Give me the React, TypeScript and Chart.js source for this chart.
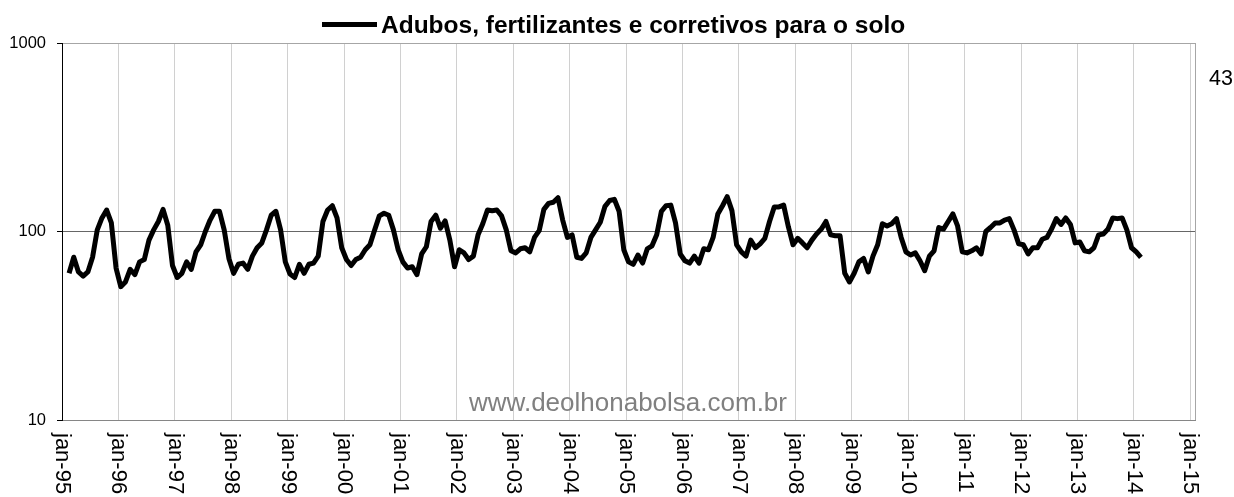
import React, { useEffect, useRef } from "react";
import { Chart, registerables } from "chart.js";

Chart.register(...registerables);

// Monthly series, first value = feb-95 (month index 1 counted from jan-95)
const firstMonthIndex = 1;
const seriesValues: number[] = [
  // 1995 (feb..dec)
  60, 73, 61, 58, 61, 73, 102, 118, 130, 111, 64,
  // 1996
  51, 54, 63, 59, 69, 71, 90, 102, 113, 131, 108, 66,
  // 1997
  57, 60, 69, 63, 78, 85, 100, 115, 128, 128, 102, 72,
  // 1998
  60, 67, 68, 63, 74, 82, 87, 102, 122, 128, 102, 69,
  // 1999
  59.5, 57, 67, 60, 67, 68, 74, 113, 130, 137, 118, 82,
  // 2000
  71, 66, 71, 73, 80, 85, 102, 121, 125, 122, 102, 80,
  // 2001
  69, 64, 65, 59, 76, 83, 113, 122, 104, 114, 90, 65,
  // 2002
  80, 77, 71, 74, 96, 110, 130, 129, 130, 121, 102, 79,
  // 2003
  77, 81, 82, 78, 93, 101, 131, 141, 143, 151, 115, 93,
  // 2004
  96, 73, 72, 77, 93, 102, 112, 136, 146, 148, 128, 80,
  // 2005
  69, 67, 75, 68, 81, 84, 96, 128, 137, 138, 111, 76,
  // 2006
  70, 68, 74, 68, 81, 80, 93, 124, 137, 153, 129, 85,
  // 2007
  78, 74, 90, 82, 86, 92, 113, 135, 135, 138, 106, 85,
  // 2008
  92, 87, 82, 90, 97, 103, 113, 96, 95, 95, 60, 54,
  // 2009
  60, 69, 72, 61, 74, 85, 110, 107, 110, 117, 93, 78,
  // 2010
  75, 77, 70, 62, 74, 79, 105, 103, 113, 124, 107, 78,
  // 2011
  77, 79, 82, 76, 100, 105, 111, 111, 115, 117, 102, 86,
  // 2012
  85, 76, 82, 82, 91, 93, 103, 117, 109, 118, 109, 87,
  // 2013
  88, 79, 78, 82, 96, 97, 103, 118, 117, 118, 102, 82,
  // 2014 (jan..feb)
  78, 73,
];

const xTickLabels: string[] = [
  "jan-95", "jan-96", "jan-97", "jan-98", "jan-99", "jan-00", "jan-01",
  "jan-02", "jan-03", "jan-04", "jan-05", "jan-06", "jan-07", "jan-08",
  "jan-09", "jan-10", "jan-11", "jan-12", "jan-13", "jan-14", "jan-15",
];
const yTickValues: number[] = [10, 100, 1000];
const seriesLabel = "Adubos, fertilizantes e corretivos para o solo";
const sideNote = "43";
const watermark = "www.deolhonabolsa.com.br";

const FONT = '"Liberation Sans", Arial, sans-serif';

export default function App() {
  const canvasRef = useRef<HTMLCanvasElement | null>(null);

  useEffect(() => {
    document.body.style.margin = "0";
    const canvas = canvasRef.current;
    if (!canvas) return;

    const points = seriesValues.map((v, i) => ({ x: firstMonthIndex + i + 0.5, y: v }));
    const totalMonths = (xTickLabels.length - 1) * 12 + 1;

    const overlay = {
      id: "overlay",
      afterDraw(chart: any) {
        const ctx = chart.ctx as CanvasRenderingContext2D;
        const area = chart.chartArea;
        const xs = chart.scales.x;
        ctx.save();
        // right border of plot area
        ctx.strokeStyle = "#a6a6a6";
        ctx.lineWidth = 1;
        ctx.beginPath();
        ctx.moveTo(Math.round(area.right) + 0.5, area.top);
        ctx.lineTo(Math.round(area.right) + 0.5, area.bottom);
        ctx.stroke();

        // watermark
        ctx.fillStyle = "#808080";
        ctx.font = `26px ${FONT}`;
        ctx.textAlign = "center";
        ctx.textBaseline = "alphabetic";
        ctx.fillText(watermark, 628, 411);

        // rotated x labels (reading top to bottom)
        ctx.fillStyle = "#000";
        ctx.font = `22px ${FONT}`;
        ctx.textAlign = "left";
        ctx.textBaseline = "middle";
        xTickLabels.forEach((lab, i) => {
          const px = xs.getPixelForValue(i * 12);
          ctx.save();
          ctx.translate(px, area.bottom + 13);
          ctx.rotate(Math.PI / 2);
          ctx.fillText(lab, 0, 0);
          ctx.restore();
        });

        // legend
        ctx.strokeStyle = "#000";
        ctx.lineWidth = 5;
        ctx.lineCap = "butt";
        ctx.beginPath();
        ctx.moveTo(322, 24.5);
        ctx.lineTo(377, 24.5);
        ctx.stroke();
        ctx.fillStyle = "#000";
        ctx.font = `bold 24.5px ${FONT}`;
        ctx.textAlign = "left";
        ctx.textBaseline = "alphabetic";
        ctx.fillText(seriesLabel, 381, 33);

        // side note
        ctx.font = `21.5px ${FONT}`;
        ctx.fillText(sideNote, 1209, 85);
        ctx.restore();
      },
    };

    const chart = new Chart(canvas, {
      type: "line",
      data: {
        datasets: [
          {
            label: seriesLabel,
            data: points,
            borderColor: "#000",
            borderWidth: 5,
            pointRadius: 0,
            tension: 0,
            borderJoinStyle: "round",
            borderCapStyle: "butt",
            fill: false,
          },
        ],
      },
      options: {
        responsive: false,
        animation: false,
        devicePixelRatio: 1,
        layout: { padding: { top: 43, right: 39, left: 0, bottom: 0 } },
        plugins: {
          legend: { display: false },
          title: { display: false },
          tooltip: { enabled: false },
        },
        scales: {
          x: {
            type: "linear",
            min: 0,
            max: totalMonths,
            afterBuildTicks: (scale: any) => {
              scale.ticks = xTickLabels.map((_, i) => ({ value: i * 12 }));
            },
            afterFit: (scale: any) => {
              scale.height = 77;
            },
            ticks: { display: false },
            grid: { color: "#d0d0d0", lineWidth: 1, drawTicks: false },
            border: { display: true, color: "#868686", width: 1 },
          },
          y: {
            type: "logarithmic",
            min: 10,
            max: 1000,
            afterBuildTicks: (scale: any) => {
              scale.ticks = yTickValues.map((v) => ({ value: v }));
            },
            afterFit: (scale: any) => {
              scale.width = 62;
            },
            ticks: {
              padding: 11,
              color: "#000",
              font: { family: FONT, size: 16.5 },
              callback: (v: any) => String(v),
            },
            grid: {
              color: (c: any) => (c.tick && c.tick.value === 100 ? "#666666" : "#a6a6a6"),
              lineWidth: 1,
              drawTicks: true,
              tickLength: 5,
              tickColor: "#000",
            },
            border: { display: true, color: "#000", width: 1 },
          },
        },
      },
      plugins: [overlay],
    } as any);

    return () => chart.destroy();
  }, []);

  return (
    <div style={{ width: 1234, height: 497, position: "relative", background: "#fff" }}>
      <canvas ref={canvasRef} width={1234} height={497} />
    </div>
  );
}
